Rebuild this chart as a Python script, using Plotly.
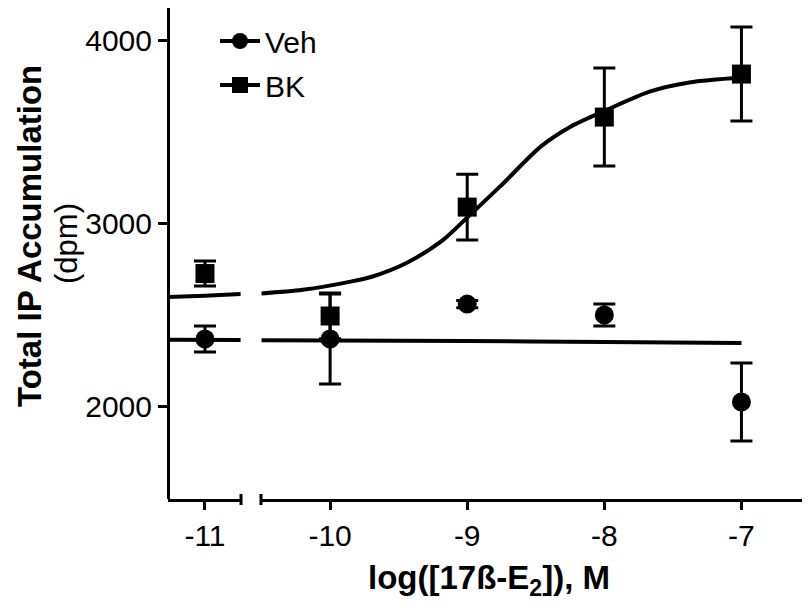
import plotly.graph_objects as go

# ---- data ----
log_conc = [-11, -10, -9, -8, -7]
veh_mean = [2366, 2366, 2557, 2497, 2022]
veh_sem = [71, 246, 20, 60, 213]
bk_mean = [2724, 2492, 3087, 3579, 3814]
bk_sem = [68, 125, 180, 268, 257]

# fitted curves
bk_fit_left_x = [-11.27, -11.0, -10.74]
bk_fit_left_y = [2596, 2603, 2612]
bk_fit_right_x = [-10.5, -10.2, -9.85, -9.69, -9.44, -9.18, -9.0, -8.76, -8.46, -8.25, -8.0, -7.67, -7.38, -7.0]
bk_fit_right_y = [2615, 2635, 2680, 2708, 2783, 2905, 3030, 3200, 3420, 3525, 3612, 3718, 3768, 3795]
veh_fit_left_x = [-11.27, -10.74]
veh_fit_left_y = [2362, 2361]
veh_fit_right_x = [-10.5, -9.0, -8.0, -7.0]
veh_fit_right_y = [2360, 2355, 2350, 2345]

x_ticks_left = [-11]
x_ticks_right = [-10, -9, -8, -7]
y_ticks = [2000, 3000, 4000]

FONT = "Arial, Liberation Sans, sans-serif"
BLACK = "black"

fig = go.Figure()

# fitted curves
for xs, ys, ax in [(bk_fit_left_x, bk_fit_left_y, "x2"), (veh_fit_left_x, veh_fit_left_y, "x2"),
                   (bk_fit_right_x, bk_fit_right_y, "x"), (veh_fit_right_x, veh_fit_right_y, "x")]:
    fig.add_trace(go.Scatter(x=xs, y=ys, mode="lines", xaxis=ax, yaxis="y",
                             line=dict(color=BLACK, width=4, shape="spline", smoothing=0.8),
                             showlegend=False, hoverinfo="skip"))

def add_points(means, sems, symbol):
    left = [i for i, v in enumerate(log_conc) if v <= -10.75]
    right = [i for i, v in enumerate(log_conc) if v > -10.75]
    for idx, ax in [(left, "x2"), (right, "x")]:
        fig.add_trace(go.Scatter(
            x=[log_conc[i] for i in idx], y=[means[i] for i in idx],
            mode="markers", xaxis=ax, yaxis="y",
            marker=dict(symbol=symbol, size=19, color=BLACK),
            error_y=dict(type="data", array=[sems[i] for i in idx], visible=True,
                         color=BLACK, thickness=3, width=11),
            showlegend=False, cliponaxis=False))

add_points(veh_mean, veh_sem, "circle")
add_points(bk_mean, bk_sem, "square")

# legend entries
for name, sym, grp in [("Veh", "circle", "a"), ("BK", "square", "b")]:
    fig.add_trace(go.Scatter(x=[None], y=[None], mode="lines+markers", name=name,
                             legendgroup=grp,
                             marker=dict(symbol=sym, size=19, color=BLACK),
                             line=dict(color=BLACK, width=4)))

OFF = 8  # page body margin
W, H = 802, 600
L, R, T, B = 160, 0, 0, 109
pw = W - L - R
ph = H - T - B

def px_x(p):  # page pixel -> paper
    return (p - OFF - L) / pw

def px_y(p):
    return (H - B - (p - OFF)) / ph

axis_common = dict(showline=True, linewidth=3, linecolor=BLACK, ticks="outside",
                   ticklen=8, tickwidth=3, tickcolor=BLACK, showgrid=False, zeroline=False,
                   automargin=False,
                   tickfont=dict(family=FONT, size=30, color=BLACK), fixedrange=True)

fig.update_layout(
    template="none",
    width=W, height=H,
    margin=dict(l=L, r=R, t=T, b=B, autoexpand=False),
    paper_bgcolor="white", plot_bgcolor="white",
    xaxis=dict(domain=[px_x(261), 1], range=[-10.504, -6.5], anchor="y",
               tickvals=x_ticks_right, ticktext=[str(v) for v in x_ticks_right], **axis_common),
    xaxis2=dict(domain=[0, px_x(241)], range=[-11.27, -10.737], anchor="y",
                tickvals=x_ticks_left, ticktext=[str(v) for v in x_ticks_left], **axis_common),
    yaxis=dict(range=[1492, 4175], anchor="free", position=0,
               tickvals=y_ticks, ticktext=[str(v) for v in y_ticks],
               **{**axis_common, "ticklen": 9}),
    showlegend=True,
    legend=dict(x=px_x(215), y=px_y(15), xanchor="left", yanchor="top",
                font=dict(family=FONT, size=30, color=BLACK), itemwidth=40,
                tracegroupgap=2, bgcolor="rgba(0,0,0,0)", traceorder="grouped"),
    annotations=[
        dict(text="<b>Total IP Accumulation</b>", xref="paper", yref="paper",
             x=px_x(29), y=px_y(236), textangle=-90, showarrow=False,
             xanchor="center", yanchor="middle", font=dict(family=FONT, size=33, color=BLACK)),
        dict(text="(dpm)", xref="paper", yref="paper",
             x=px_x(67), y=px_y(244), textangle=-90, showarrow=False,
             xanchor="center", yanchor="middle", font=dict(family=FONT, size=31, color=BLACK)),
        dict(text="<b>log([17ß-E<sub>2</sub>]), M</b>", xref="paper", yref="paper",
             x=0.5, y=px_y(580), showarrow=False,
             xanchor="center", yanchor="middle", font=dict(family=FONT, size=33, color=BLACK)),
    ],
    shapes=[
        dict(type="line", xref="x2 domain", yref="paper", x0=1, x1=1,
             y0=px_y(494), y1=px_y(505), line=dict(color=BLACK, width=3)),
        dict(type="line", xref="x domain", yref="paper", x0=0, x1=0,
             y0=px_y(494), y1=px_y(505), line=dict(color=BLACK, width=3)),
    ],
)

fig.write_html("out.html")
